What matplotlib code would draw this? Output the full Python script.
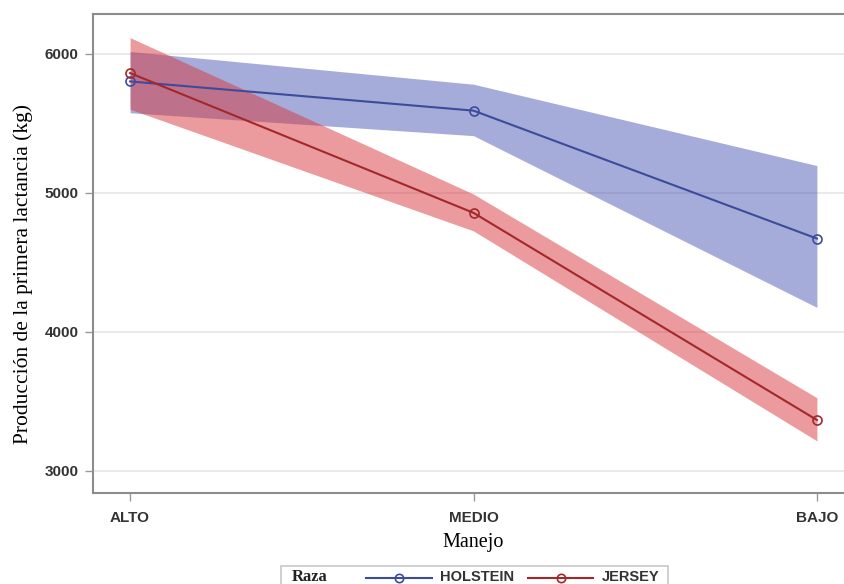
import matplotlib
matplotlib.use("Agg")
import matplotlib.pyplot as plt
from matplotlib.lines import Line2D
from matplotlib.patches import Rectangle

manejo = ["ALTO", "MEDIO", "BAJO"]

holstein = [5800, 5590, 4670]
holstein_lo = [5575, 5410, 4175]
holstein_hi = [6015, 5780, 5195]

jersey = [5860, 4855, 3365]
jersey_lo = [5600, 4725, 3215]
jersey_hi = [6115, 4990, 3525]

razas = ["HOLSTEIN", "JERSEY"]

BLUE_LINE = "#3d4b9c"
BLUE_FILL = "#4352b0"
RED_LINE = "#a3282c"
RED_FILL = "#d8383c"

SERIF = "Liberation Serif"
SANS = "Liberation Sans"

W, H = 844, 584
fig = plt.figure(figsize=(W / 100, H / 100), dpi=100)
ax = fig.add_axes([93 / W, 1 - 493 / H, 761 / W, 479 / H])

x = list(range(len(manejo)))

ax.fill_between(x, holstein_lo, holstein_hi, color=BLUE_FILL, alpha=0.48, lw=0, zorder=2)
ax.fill_between(x, jersey_lo, jersey_hi, color=RED_FILL, alpha=0.5, lw=0, zorder=3)

ax.plot(x, holstein, color=BLUE_LINE, lw=1.5, marker="o", ms=6.5,
        mfc="none", mec=BLUE_LINE, mew=1.2, zorder=4)
ax.plot(x, jersey, color=RED_LINE, lw=1.5, marker="o", ms=6.5,
        mfc="none", mec=RED_LINE, mew=1.2, zorder=4)

ax.set_xlim(-0.108, 2.108)
ax.set_ylim(2840, 6285)
ax.set_xticks(x)
ax.set_xticklabels(manejo)
ax.set_yticks([3000, 4000, 5000, 6000])
ax.grid(axis="y", color="#e6e6e6", lw=1.2, zorder=0)
ax.set_axisbelow(True)

for lab in ax.get_xticklabels() + ax.get_yticklabels():
    lab.set_fontfamily(SANS)
    lab.set_fontweight("bold")
    lab.set_fontsize(11)
    lab.set_color("#333333")
ax.tick_params(axis="both", length=6, width=1, color="#999999", pad=4.5)
ax.tick_params(axis="x", pad=7)

for side in ["left", "top", "bottom"]:
    ax.spines[side].set_color("#8c8c8c")
    ax.spines[side].set_linewidth(1.5)
ax.spines["right"].set_visible(False)

ax.set_xlabel("Manejo", family=SERIF, fontsize=14.5, va="center")
ax.xaxis.set_label_coords(0.5, -(543 - 493) / 479)
ax.set_ylabel("Producción de la primera lactancia (kg)", family=SERIF, fontsize=15.5,
              va="center")
ax.yaxis.set_label_coords(-(93 - 23) / 761, (493 - 274) / 479)


# legend drawn by hand so that the "Raza" title sits at the left, as in the original
def px(xp, yp):
    return xp / W, 1 - yp / H


box_l, box_r, box_t = 281, 668, 566
fig.add_artist(Rectangle(px(box_l, box_t + 40), (box_r - box_l) / W, 40 / H,
                         transform=fig.transFigure, fill=False,
                         edgecolor="#c8c8c8", lw=1.2))
ty = 577
fig.text(*px(292, ty), "Raza", family=SERIF, fontweight="bold", fontsize=12,
         ha="left", va="center", color="#222222")
entries = [(366, 432, 440, razas[0], BLUE_LINE), (528, 593, 602, razas[1], RED_LINE)]
for x0, x1, tx, name, col in entries:
    (lx0, ly), (lx1, _) = px(x0, ty + 1), px(x1, ty + 1)
    fig.add_artist(Line2D([lx0, lx1], [ly, ly], transform=fig.transFigure,
                          color=col, lw=1.5))
    fig.add_artist(Line2D([(lx0 + lx1) / 2], [ly], transform=fig.transFigure,
                          color=col, marker="o", ms=6, mfc="none", mec=col, mew=1.2))
    fig.text(*px(tx, ty), name, family=SANS, fontweight="bold", fontsize=10.5,
             ha="left", va="center", color="#333333")

fig.savefig("out.png", dpi=100)
